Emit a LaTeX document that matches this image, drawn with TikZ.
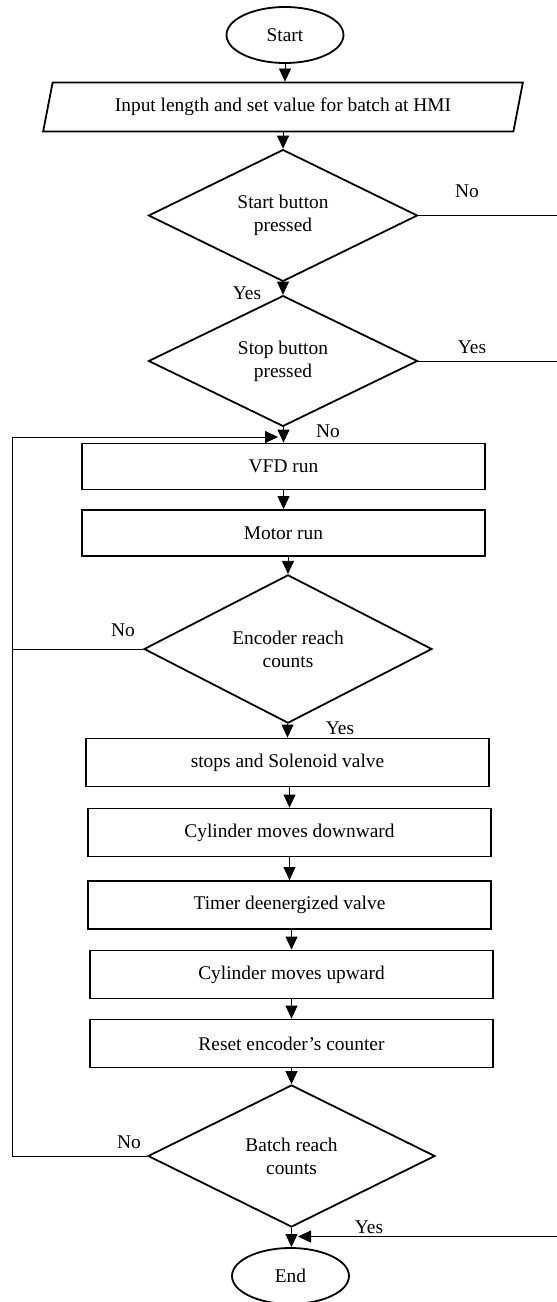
\documentclass[tikz,border=0pt]{standalone}
\usepackage{fontspec}
\setmainfont{Liberation Serif}
\usetikzlibrary{shapes.geometric,arrows.meta}

\begin{document}
\begin{tikzpicture}[x=0.5pt,y=-0.5pt,
    font=\fontsize{9.7}{11.6}\selectfont,
    term/.style={draw,line width=0.9pt,ellipse,minimum width=58.5pt,minimum height=28pt,inner sep=0pt},
    io/.style={draw,line width=0.9pt,trapezium,trapezium left angle=77,trapezium right angle=103,
        trapezium stretches=true,minimum width=240pt,minimum height=24.5pt},
    proc/.style={draw,line width=0.9pt,rectangle,minimum width=201.5pt,minimum height=24pt},
    decide/.style={draw,line width=0.9pt,diamond,align=center,inner sep=0pt},
    arr/.style={-{Triangle[length=6.5pt,width=6pt]},line width=0.4pt},
    line/.style={line width=0.4pt},
    lbl/.style={inner sep=0pt}]
    \useasboundingbox (0,0) rectangle (557,1302);
    \node (start) at (285,35) [term] {Start};
    \node (input) at (283,107) [io] {Input length and set value for batch at HMI};
    \node (d1) at (283,215.5) [decide,minimum width=134.5pt,minimum height=64.5pt] {Start button\\pressed};
    \node (d2) at (283,361) [decide,minimum width=134.5pt,minimum height=64.5pt] {Stop button\\pressed};
    \node (vfd) at (283.5,466.5) [proc,minimum height=23pt] {VFD run};
    \node (motor) at (283.5,533) [proc,minimum height=23pt] {Motor run};
    \node (d3) at (288,649) [decide,minimum width=144pt,minimum height=70pt] {Encoder reach\\counts};
    \node (valve) at (287.5,762.5) [proc] {stops and Solenoid valve};
    \node (down) at (289.5,832.5) [proc] {Cylinder moves downward};
    \node (timer) at (289.5,905) [proc] {Timer deenergized valve};
    \node (up) at (291.5,974.5) [proc] {Cylinder moves upward};
    \node (reset) at (291.5,1043.5) [proc] {Reset encoder’s counter};
    \node (d4) at (291.5,1156) [decide,minimum width=143.5pt,minimum height=71pt] {Batch reach\\counts};
    \node (end) at (290.5,1276) [term] {End};

    \node (no1) at (467,191) [lbl] {No};
    \node (yes1) at (247,293) [lbl] {Yes};
    \node (yes2) at (472,347) [lbl] {Yes};
    \node (no2) at (328,431) [lbl] {No};
    \node (no3) at (123,630) [lbl] {No};
    \node (yes3) at (340,728) [lbl] {Yes};
    \node (no4) at (129,1142) [lbl] {No};
    \node (yes4) at (369,1227) [lbl] {Yes};

    \coordinate (lx) at (12,0);
    \coordinate (rx) at (562,0);
    \coordinate (loopend) at (278,437);
    \coordinate (yesend) at (298,1236.5);

    \draw[arr] (start.south |- start.south) -- (start.south |- input.north);
    \draw[arr] (input.north |- input.south) -- (input.north |- d1.north);
    \draw[arr] (d2.north |- d1.south) -- (d2.north);
    \draw[arr] (vfd.north |- d2.south) -- (vfd.north);
    \draw[arr] (motor.north |- vfd.south) -- (motor.north);
    \draw[arr] (d3.north |- motor.south) -- (d3.north);
    \draw[arr] (valve.north |- d3.south) -- (valve.north);
    \draw[arr] (down.north |- valve.south) -- (down.north);
    \draw[arr] (timer.north |- down.south) -- (timer.north);
    \draw[arr] (up.north |- timer.south) -- (up.north);
    \draw[arr] (reset.north |- up.south) -- (reset.north);
    \draw[arr] (d4.north |- reset.south) -- (d4.north);
    \draw[arr] (d4.south) -- (d4.south |- end.north);

    \draw[line] (d3.west) -- (d3.west -| lx);
    \draw[arr] (d4.west) -- (d4.west -| lx) -- (lx |- loopend) -- (loopend);
    \draw[line] (d2.east) -- (d2.east -| rx);
    \draw[arr] (d1.east) -- (d1.east -| rx) -- (rx |- yesend) -- (yesend);
\end{tikzpicture}
\end{document}
